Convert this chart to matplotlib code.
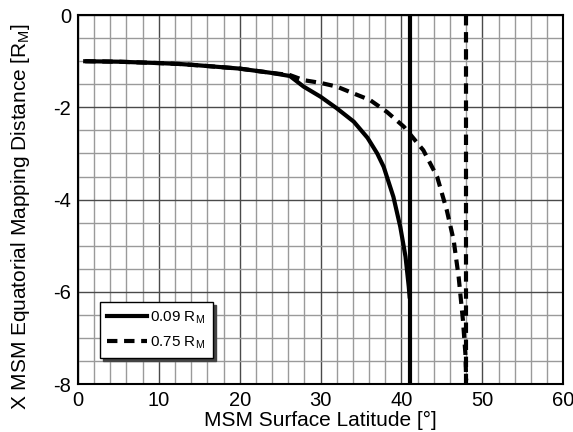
import matplotlib.pyplot as plt
from matplotlib.ticker import MultipleLocator

plt.rcParams['font.family'] = ['Liberation Sans', 'DejaVu Sans']
plt.rcParams['axes.unicode_minus'] = False

# 0.09 R_M curve (latitude in deg, X in R_M)
lat_009 = [0.9, 5, 10, 12.6, 15, 20, 23.8, 26.2, 27.9, 30, 32, 34.1, 35.8, 37.0, 37.8, 39.0, 39.85, 40.5, 40.9, 41.0]
x_009 = [-1.0, -1.01, -1.04, -1.06, -1.09, -1.16, -1.25, -1.32, -1.55, -1.77, -2.02, -2.31, -2.66, -3.0, -3.29, -3.94, -4.59, -5.24, -5.89, -6.1]
# 0.75 R_M curve
lat_075 = [0.9, 5, 10, 12.6, 15, 20, 23.8, 26.2, 27.9, 30, 32, 34.1, 36.1, 38.2, 40.3, 42.7, 44.4, 45.6, 46.45, 47.07, 47.6, 47.9, 48.0]
x_075 = [-1.0, -1.01, -1.04, -1.06, -1.09, -1.16, -1.25, -1.30, -1.41, -1.47, -1.55, -1.70, -1.84, -2.10, -2.42, -2.93, -3.5, -4.23, -4.88, -5.68, -6.62, -7.34, -7.92]
# limiting latitudes (vertical lines)
lim_009 = 41.0
lim_075 = 48.0

fig = plt.figure(figsize=(5.73, 4.32), dpi=100)
ax = fig.add_axes([0.136, 0.111, 0.847, 0.854])

ax.xaxis.set_major_locator(MultipleLocator(10))
ax.xaxis.set_minor_locator(MultipleLocator(2))
ax.yaxis.set_major_locator(MultipleLocator(2))
ax.yaxis.set_minor_locator(MultipleLocator(0.5))
ax.grid(which='minor', color='#9a9a9a', lw=1.0)
ax.grid(which='major', color='#4a4a4a', lw=1.0)
ax.set_axisbelow(True)

ax.plot(lat_009, x_009, color='black', lw=3, label='0.09 R$_\\mathregular{M}$')
ax.plot([lim_009, lim_009], [0, -8], color='black', lw=3)
ax.plot(lat_075, x_075, color='black', lw=3, ls=(0, (2.5, 1.6)), label='0.75 R$_\\mathregular{M}$')
ax.plot([lim_075, lim_075], [0, -8], color='black', lw=3, ls=(0, (2.5, 1.6)))

ax.set_xlim(0, 60)
ax.set_ylim(-8, 0)
ax.tick_params(which='both', length=0, labelsize=14.5, pad=5)
for s in ax.spines.values():
    s.set_linewidth(1.5)

ax.set_xlabel('MSM Surface Latitude [°]', fontsize=15, labelpad=1)
ax.set_ylabel('X MSM Equatorial Mapping Distance [R$_\\mathregular{M}$]', fontsize=15)
ax.yaxis.set_label_coords(-0.095, 0.455)

leg = ax.legend(loc='lower left', bbox_to_anchor=(0.045, 0.07), fontsize=11, fancybox=False,
                shadow={'color': '#444444', 'alpha': 1}, framealpha=1, edgecolor='black',
                handlelength=2.6, handletextpad=0.2, borderpad=0.5, labelspacing=0.5,
                borderaxespad=0)
leg.get_frame().set_linewidth(1.0)

fig.savefig('out.png', dpi=100)
